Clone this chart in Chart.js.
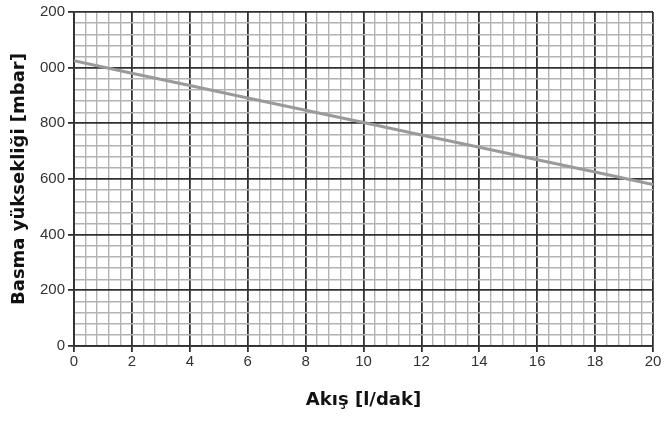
<!DOCTYPE html>
<html lang="tr">
<head>
    <meta charset="UTF-8">
    <title>Basma yüksekliği</title>
    <script src="https://cdn.jsdelivr.net/npm/chart.js"></script>
    <style>
        body { margin: 0; background: #fff; }
        .chart-container { width: 670px; height: 421px; }
    </style>
</head>
<body>
    <div class="chart-container">
        <canvas id="pumpChart"></canvas>
    </div>
    <script>
        // Okunan değerler
        const flowValues = [0, 2, 4, 6, 8, 10, 12, 14, 16, 18, 20];
        const headValues = [1025, 980, 936, 891, 847, 803, 758, 714, 669, 625, 580];
        // Görünen eksen etiketleri (üstteki "1" kırpılmış)
        const yTickValues = [0, 200, 400, 600, 800, 1000, 1200];
        const yTickLabels = ['0', '200', '400', '600', '800', '000', '200'];
        const xTickValues = [0, 2, 4, 6, 8, 10, 12, 14, 16, 18, 20];
        const xTickLabels = ['0', '2', '4', '6', '8', '10', '12', '14', '16', '18', '20'];

        const points = flowValues.map((x, i) => ({ x: x, y: headValues[i] }));

        function isMajor(v, step) {
            const r = v / step;
            return Math.abs(r - Math.round(r)) < 1e-6;
        }

        const tickFont = { family: 'Liberation Sans', size: 15 };
        const titleFont = { family: 'DejaVu Sans', size: 18, weight: 'bold', lineHeight: 1 };
        const majorColor = '#303030';
        const minorColor = '#b2b2b2';

        const ctx = document.getElementById('pumpChart').getContext('2d');
        new Chart(ctx, {
            type: 'scatter',
            data: {
                datasets: [{
                    data: points,
                    showLine: true,
                    borderColor: '#9a9a9a',
                    borderWidth: 3,
                    pointRadius: 0,
                    fill: false
                }]
            },
            options: {
                responsive: true,
                maintainAspectRatio: false,
                animation: false,
                layout: { padding: { left: 10, right: 17, top: 11, bottom: 12 } },
                plugins: { legend: { display: false }, tooltip: { enabled: false } },
                scales: {
                    x: {
                        type: 'linear',
                        min: 0,
                        max: 20,
                        ticks: {
                            stepSize: 0.4,
                            autoSkip: false,
                            maxRotation: 0,
                            padding: 1,
                            color: '#333',
                            font: tickFont,
                            callback: function (v) {
                                const i = xTickValues.findIndex(t => Math.abs(t - v) < 1e-6);
                                return i >= 0 ? xTickLabels[i] : '';
                            }
                        },
                        grid: {
                            tickLength: 6,
                            color: c => isMajor(c.tick.value, 2) ? majorColor : minorColor,
                            tickColor: c => isMajor(c.tick.value, 2) ? majorColor : 'rgba(0,0,0,0)',
                            lineWidth: c => isMajor(c.tick.value, 2) ? 1.8 : 1.4
                        },
                        border: { color: majorColor, width: 1.8 },
                        title: {
                            display: true,
                            text: 'Akış [l/dak]',
                            color: '#111',
                            font: titleFont,
                            padding: { top: 19, bottom: 0 }
                        }
                    },
                    y: {
                        type: 'linear',
                        min: 0,
                        max: 1200,
                        afterFit: function (scale) { scale.width = 64; },
                        ticks: {
                            stepSize: 40,
                            autoSkip: false,
                            padding: 3,
                            color: '#333',
                            font: tickFont,
                            callback: function (v) {
                                const i = yTickValues.indexOf(v);
                                return i >= 0 ? yTickLabels[i] : '';
                            }
                        },
                        grid: {
                            tickLength: 6,
                            color: c => isMajor(c.tick.value, 200) ? majorColor : minorColor,
                            tickColor: c => isMajor(c.tick.value, 200) ? majorColor : 'rgba(0,0,0,0)',
                            lineWidth: c => isMajor(c.tick.value, 200) ? 1.8 : 1.4
                        },
                        border: { color: majorColor, width: 1.8 },
                        title: {
                            display: true,
                            text: 'Basma yüksekliği [mbar]',
                            color: '#111',
                            font: titleFont,
                            padding: { top: 0, bottom: 0 }
                        }
                    }
                }
            }
        });
    </script>
</body>
</html>
